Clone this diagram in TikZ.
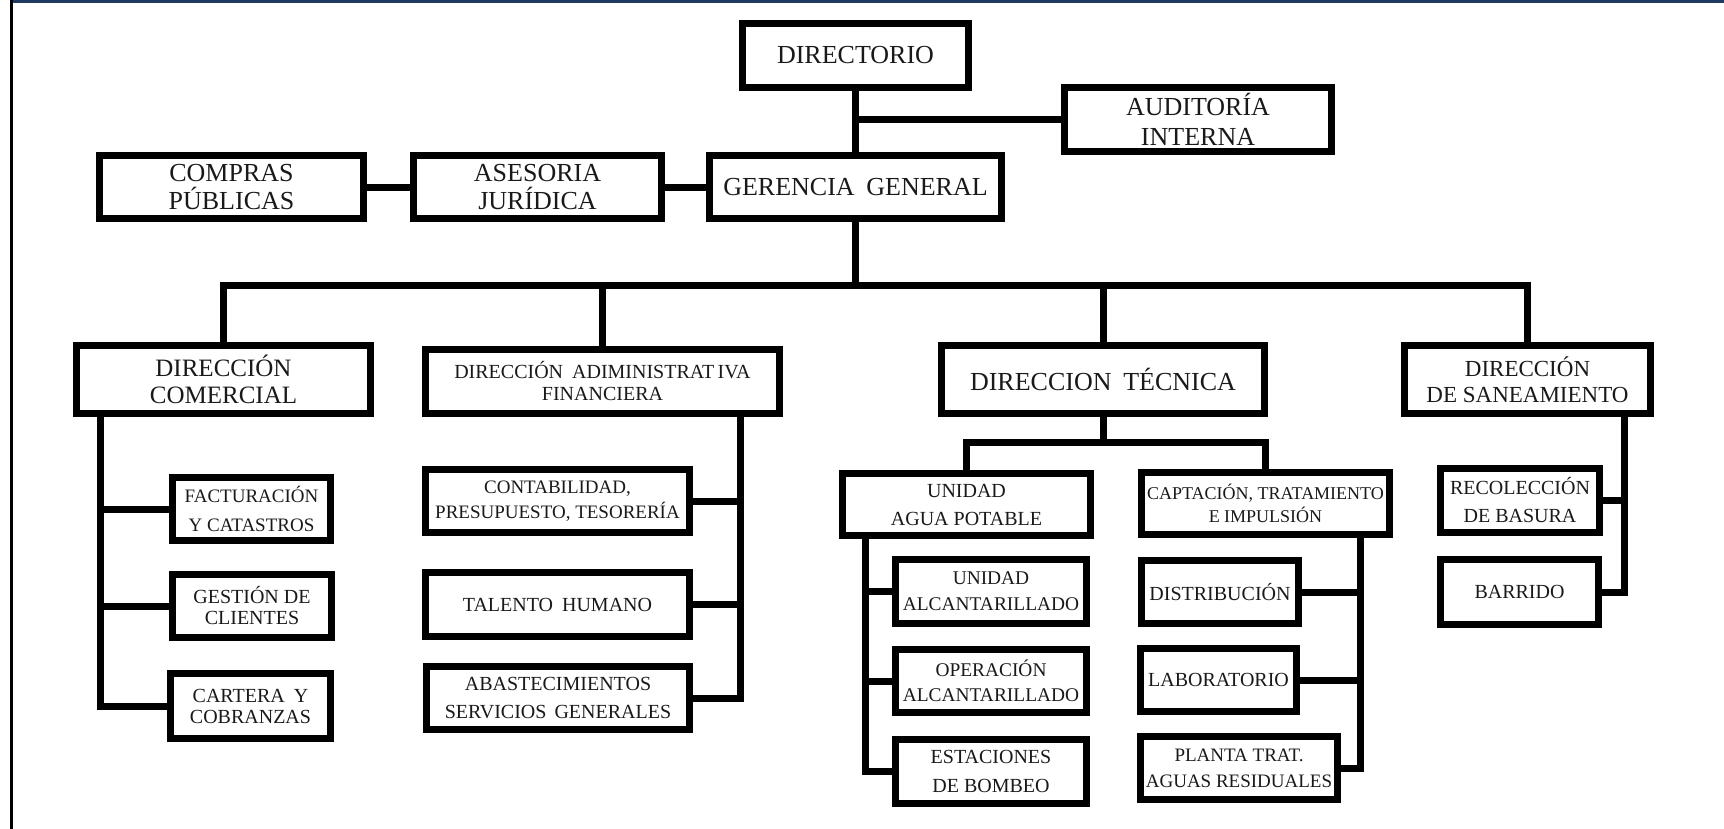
\documentclass[tikz,border=0pt]{standalone}
\usepackage{fontspec}
\setmainfont{Liberation Serif}
\definecolor{navyline}{HTML}{1F3A5F}
\tikzset{
  ob/.style={draw=black, line width=3.5pt, inner sep=0pt, align=center, text=black!90},
  conn/.style={draw=black, line width=3.5pt, line join=miter}
}
\newcommand\obox[7]{%
  \node[ob, minimum width={(#4-#2-7)*0.5pt}, minimum height={(#5-#3-7)*0.5pt}, font=#6] (#1) at ({(#2+#4)/2},{(#3+#5)/2}) {#7};}
\newcommand\fsz[2]{\fontsize{#1pt}{#2pt}\selectfont}
\begin{document}
\begin{tikzpicture}[x=0.5pt,y=-0.5pt]
\useasboundingbox (0,0) rectangle (1724,829);
% frame
\fill[navyline] (11,0) rectangle (1724,3);
\fill[black] (10,0) rectangle (13,829);
% top level
\obox{dir}{739}{20}{972}{91}{\fsz{13}{15}}{DIRECTORIO}
\obox{aud}{1061}{84}{1335}{155}{\fsz{13}{15}}{AUDITORÍA\\INTERNA}
\obox{ger}{706}{152}{1005}{222}{\fsz{13}{15}}{GERENCIA\hspace{0.45em}GENERAL}
\obox{comp}{96}{152}{367}{222}{\fsz{13}{14}}{COMPRAS\\PÚBLICAS}
\obox{ase}{410}{152}{665}{222}{\fsz{13}{14}}{ASESORIA\\JURÍDICA}
% directions
\obox{com}{73}{342}{374}{417}{\fsz{12.5}{13.5}}{DIRECCIÓN\\COMERCIAL}
\obox{adm}{422}{346}{783}{417}{\fsz{10}{11}}{DIRECCIÓN\hspace{0.45em}ADIMINISTRAT\,IVA\\FINANCIERA}
\obox{tec}{938}{342}{1268}{417}{\fsz{13}{15}}{DIRECCION\hspace{0.45em}TÉCNICA}
\obox{san}{1401}{342}{1654}{417}{\fsz{11.5}{13}}{DIRECCIÓN\\DE SANEAMIENTO}
% comercial
\obox{fact}{169}{474}{334}{544}{\fsz{9.5}{14.5}}{FACTURACIÓN\\Y CATASTROS}
\obox{gest}{169}{571}{335}{641}{\fsz{10}{10.5}}{GESTIÓN DE\\CLIENTES}
\obox{cart}{167}{670}{334}{742}{\fsz{10}{10.5}}{CARTERA\hspace{0.45em}Y\\COBRANZAS}
% administrativa
\obox{cont}{422}{466}{693}{536}{\fsz{9.5}{12.5}}{CONTABILIDAD,\\PRESUPUESTO, TESORERÍA}
\obox{tal}{422}{569}{693}{640}{\fsz{10}{12}}{TALENTO\hspace{0.45em}HUMANO}
\obox{abas}{423}{663}{693}{733}{\fsz{10}{14}}{ABASTECIMIENTOS\\SERVICIOS\hspace{0.4em}GENERALES}
% tecnica
\obox{uap}{839}{470}{1094}{539}{\fsz{10}{14}}{UNIDAD\\AGUA POTABLE}
\obox{capt}{1138}{469}{1393}{538}{\fsz{9}{11.5}}{CAPTACIÓN, TRATAMIENTO\\E IMPULSIÓN}
\obox{ual}{892}{556}{1090}{627}{\fsz{9.7}{13}}{UNIDAD\\ALCANTARILLADO}
\obox{oper}{892}{646}{1090}{716}{\fsz{9.7}{12.5}}{OPERACIÓN\\ALCANTARILLADO}
\obox{est}{892}{736}{1090}{807}{\fsz{10}{14.5}}{ESTACIONES\\DE BOMBEO}
\obox{dist}{1138}{557}{1302}{627}{\fsz{10}{12}}{DISTRIBUCIÓN}
\obox{lab}{1137}{645}{1300}{715}{\fsz{10}{12}}{LABORATORIO}
\obox{plan}{1137}{733}{1341}{803}{\fsz{9.5}{13}}{PLANTA TRAT.\\AGUAS RESIDUALES}
% saneamiento
\obox{rec}{1437}{465}{1603}{536}{\fsz{10}{14}}{RECOLECCIÓN\\DE BASURA}
\obox{barr}{1437}{556}{1602}{628}{\fsz{10}{12}}{BARRIDO}
% connectors top
\draw[conn] (dir.south) -- (ger.north);
\draw[conn] (aud.west) -- (aud.west -| dir.south);
\draw[conn] (comp.east) -- (ase.west);
\draw[conn] (ase.east) -- (ger.west);
\coordinate (bus) at (855.5,285);
\draw[conn] (ger.south) -- (bus);
\draw[conn] (com.north) |- (bus) -| (san.north);
\draw[conn] (adm.north) -- (adm.north |- bus);
\draw[conn] (tec.north) -- (tec.north |- bus);
% comercial
\coordinate (comsp) at (100.5,413.5);
\draw[conn] (comsp) |- (cart.west);
\draw[conn] (fact.west) -- (fact.west -| comsp);
\draw[conn] (gest.west) -- (gest.west -| comsp);
% administrativa
\coordinate (admsp) at (740,413.5);
\draw[conn] (admsp) |- (abas.east);
\draw[conn] (cont.east) -- (cont.east -| admsp);
\draw[conn] (tal.east) -- (tal.east -| admsp);
% tecnica
\coordinate (tbus) at (1103,442);
\draw[conn] (tec.south) -- (tbus);
\draw[conn] (uap.north) |- (tbus) -| (capt.north);
\coordinate (uapsp) at (865,535.5);
\draw[conn] (uapsp) |- (est.west);
\draw[conn] (ual.west) -- (ual.west -| uapsp);
\draw[conn] (oper.west) -- (oper.west -| uapsp);
\coordinate (captsp) at (1360,534.5);
\draw[conn] (captsp) |- (plan.east);
\draw[conn] (dist.east) -- (dist.east -| captsp);
\draw[conn] (lab.east) -- (lab.east -| captsp);
% saneamiento
\coordinate (sansp) at (1624,413.5);
\draw[conn] (sansp) |- (barr.east);
\draw[conn] (rec.east) -- (rec.east -| sansp);
\end{tikzpicture}
\end{document}
